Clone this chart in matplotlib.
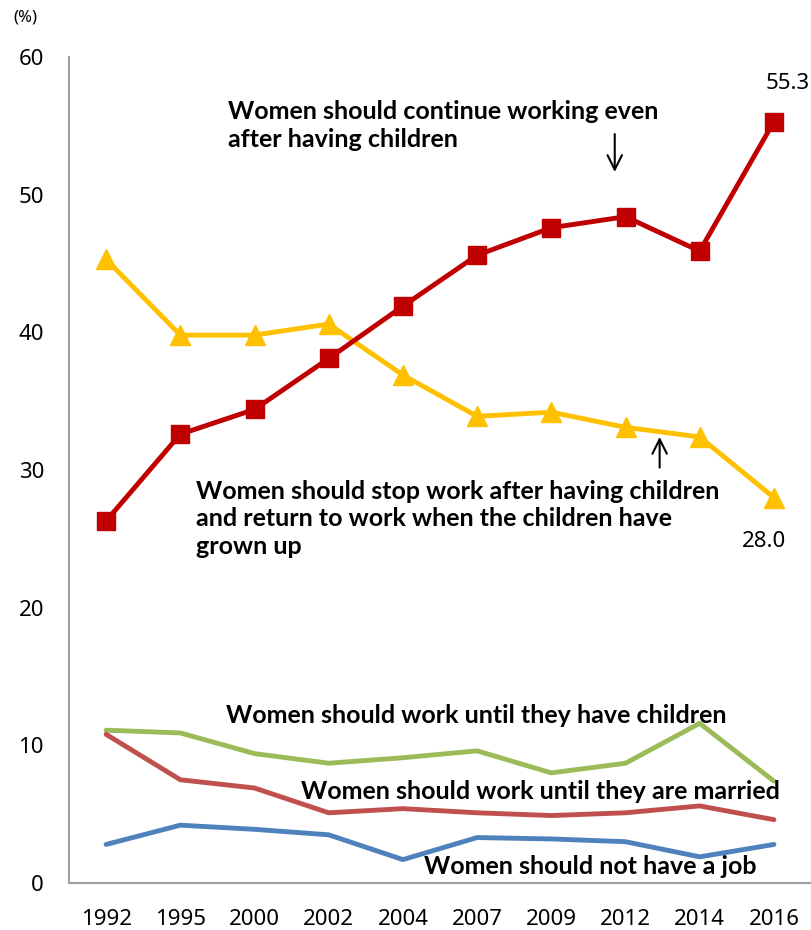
import matplotlib.pyplot as plt
import numpy as np

plt.rcParams['font.family'] = ['Noto Sans', 'DejaVu Sans']

years = ['1992', '1995', '2000', '2002', '2004', '2007', '2009', '2012', '2014', '2016']
continue_working = [26.3, 32.6, 34.4, 38.1, 41.9, 45.6, 47.6, 48.4, 45.9, 55.3]
stop_and_return = [45.3, 39.8, 39.8, 40.6, 36.9, 33.9, 34.2, 33.1, 32.4, 28.0]
until_children = [11.1, 10.9, 9.4, 8.7, 9.1, 9.6, 8.0, 8.7, 11.6, 7.4]
until_married = [10.8, 7.5, 6.9, 5.1, 5.4, 5.1, 4.9, 5.1, 5.6, 4.6]
no_job = [2.8, 4.2, 3.9, 3.5, 1.7, 3.3, 3.2, 3.0, 1.9, 2.8]

x = np.arange(len(years))

fig = plt.figure(figsize=(8.11, 9.30), dpi=100)
ax = fig.add_axes([69/811, 47/930, 742/811, 826/930])

ax.plot(x, until_children, color='#9BBB59', lw=3.5, solid_capstyle='round')
ax.plot(x, until_married, color='#C0504D', lw=3.5, solid_capstyle='round')
ax.plot(x, no_job, color='#4F81BD', lw=3.5, solid_capstyle='round')
ax.plot(x, stop_and_return, color='#FFC000', lw=3.5, marker='^', markersize=14)
ax.plot(x, continue_working, color='#C00000', lw=3.5, marker='s', markersize=13)

ax.set_xlim(-0.5, 9.5)
ax.set_ylim(0, 60)
ax.set_xticks(x)
ax.set_xticklabels(years)
ax.set_yticks(range(0, 61, 10))
ax.tick_params(length=0, labelsize=16, colors='black')
ax.tick_params(axis='y', pad=18)
ax.tick_params(axis='x', pad=19)

for s in ['top', 'right']:
    ax.spines[s].set_visible(False)
for s in ['left', 'bottom']:
    ax.spines[s].set_color('#A0A0A0')
    ax.spines[s].set_linewidth(1.5)

fig.text(13/811, 1 - 18/930, '(%)', fontsize=12, va='center', ha='left')

bold = dict(fontsize=18, fontweight='bold', family=['Lato', 'DejaVu Sans'],
            color='black', ha='left', va='center', linespacing=1.25)
ax.text(1.646, 55.0, 'Women should continue working even\nafter having children', **bold)
ax.text(1.214, 26.45, 'Women should stop work after having children\n'
        'and return to work when the children have\ngrown up', **bold)
ax.text(1.62, 12.2, 'Women should work until they have children', **bold)
ax.text(2.62, 6.68, 'Women should work until they are married', **bold)
ax.text(4.28, 1.23, 'Women should not have a job', **bold)

ax.annotate('', xy=(6.855, 51.45), xytext=(6.855, 54.6),
            arrowprops=dict(arrowstyle='->', color='black', lw=1.5, mutation_scale=26))
ax.annotate('', xy=(7.46, 32.6), xytext=(7.46, 29.97),
            arrowprops=dict(arrowstyle='->', color='black', lw=1.5, mutation_scale=26))

ax.text(9.18, 58.1, '55.3', fontsize=16, ha='center', va='center', clip_on=False)
ax.text(8.87, 24.8, '28.0', fontsize=16, ha='center', va='center')

fig.savefig('out.png', dpi=100)
